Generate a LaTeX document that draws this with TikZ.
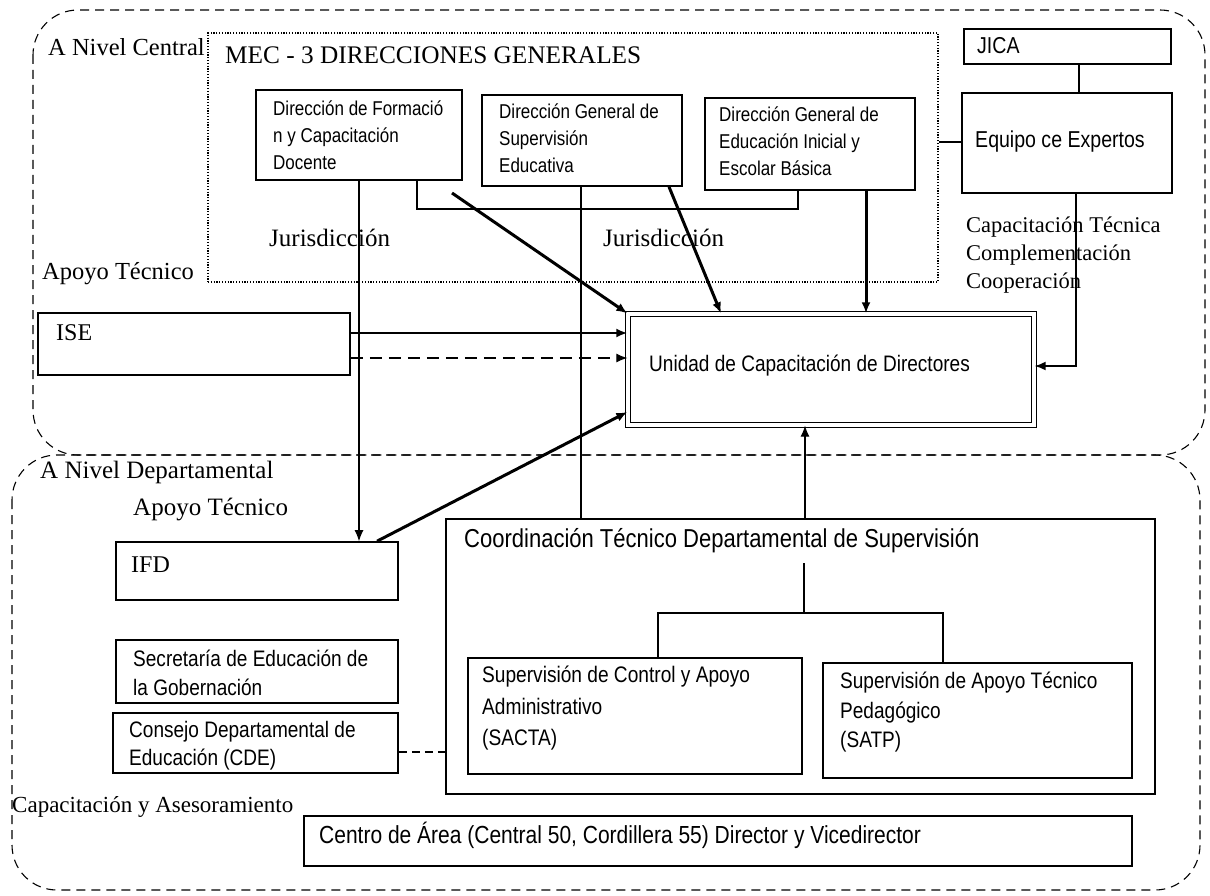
\documentclass[tikz,border=0pt]{standalone}
\usepackage{fontspec}
\setmainfont{Liberation Serif}
\newfontfamily\nsans[FakeStretch=0.85]{Liberation Sans}
\usetikzlibrary{arrows.meta,fit}
\tikzset{
  region/.style={draw, line width=1.1pt, dash pattern=on 9pt off 6pt, rounded corners=45pt},
  box/.style={draw, line width=1.6pt, inner sep=0pt},
  dotbox/.style={draw, line width=1.3pt, dash pattern=on 1.2pt off 1.6pt, inner sep=0pt},
  dblbox/.style={draw, line width=1.3pt, double, double distance=4pt, inner sep=0pt},
  stxt/.style={anchor=west, inner sep=0pt, align=left},
  ttxt/.style={anchor=west, inner sep=0pt, align=left},
  arr/.style={-{Latex[length=11pt,width=9pt]}},
  heavy/.style={line width=3pt},
  mid/.style={line width=1.8pt},
  light/.style={line width=1.1pt}
}
\begin{document}
\begin{tikzpicture}[x=1pt,y=-1pt]
\useasboundingbox (0,0) rectangle (1210,896);
% regions
\draw[region] (33,10) rectangle (1205,455);
\draw[region] (12,455) rectangle (1200,890);

% boxes
\node[dotbox, fit={(208,33) (938,282)}] (mec) {};
\node[box, fit={(256,90) (462,180)}] (d1) {};
\node[box, fit={(482,95) (682,186)}] (d2) {};
\node[box, fit={(705,98) (915,190)}] (d3) {};
\node[box, fit={(964,29) (1171,64)}] (jica) {};
\node[box, fit={(962,93) (1172,193)}] (equipo) {};
\node[dblbox, fit={(628,314) (1034,425)}] (unidad) {};
\node[box, fit={(38,313) (350,375)}] (ise) {};
\node[box, fit={(116,542) (398,600)}] (ifd) {};
\node[box, fit={(446,519) (1155,794)}] (coord) {};
\node[box, fit={(468,658) (802,774)}] (sacta) {};
\node[box, fit={(823,663) (1132,778)}] (satp) {};
\node[box, fit={(116,640) (398,703)}] (secret) {};
\node[box, fit={(113,713) (398,773)}] (consejo) {};
\node[box, fit={(304,816) (1132,866)}] (centro) {};

% serif labels
\node[ttxt, font=\fontsize{24.5}{28}\selectfont] (lcentral) at (48,47) {A Nivel Central};
\node[ttxt, font=\fontsize{25.3}{28}\selectfont] (ltitle) at (225,55) {MEC - 3 DIRECCIONES GENERALES};
\node[ttxt, font=\fontsize{25}{28}\selectfont] (ljur1) at (269,238) {Jurisdicción};
\node[ttxt, font=\fontsize{25}{28}\selectfont] (ljur2) at (603,238) {Jurisdicción};
\node[ttxt, font=\fontsize{24.5}{28}\selectfont] (lapoyo1) at (42,274) {Apoyo Técnico};
\node[ttxt, font=\fontsize{22.5}{28}\selectfont] (lcap) at (966,255) {Capacitación Técnica\\Complementación\\Cooperación};
\node[ttxt, font=\fontsize{24}{28}\selectfont] (lise) at (56,333) {ISE};
\node[ttxt, font=\fontsize{25}{28}\selectfont] (ldep) at (40,472) {A Nivel Departamental};
\node[ttxt, font=\fontsize{25}{28}\selectfont] (lapoyo2) at (133,510) {Apoyo Técnico};
\node[ttxt, font=\fontsize{24}{28}\selectfont] (lifd) at (131,565) {IFD};
\node[ttxt, font=\fontsize{23}{28}\selectfont] (lcapas) at (12,807) {Capacitación y Asesoramiento};

% sans labels
\node[stxt, font=\nsans\fontsize{20}{27}\selectfont] (td1) at (273,135) {Dirección de Formació\\n y Capacitación\\Docente};
\node[stxt, font=\nsans\fontsize{20}{27}\selectfont] (td2) at (499,138) {Dirección General de\\Supervisión\\Educativa};
\node[stxt, font=\nsans\fontsize{20}{27}\selectfont] (td3) at (719,141.5) {Dirección General de\\Educación Inicial y\\Escolar Básica};
\node[stxt, font=\nsans\fontsize{23}{28}\selectfont] (tjica) at (977,46) {JICA};
\node[stxt, font=\nsans\fontsize{23}{28}\selectfont] (tequipo) at (975,142) {Equipo ce Expertos};
\node[stxt, font=\nsans\fontsize{22.4}{28}\selectfont] (tunidad) at (649,366) {Unidad de Capacitación de Directores};
\node[stxt, font=\nsans\fontsize{25.9}{28}\selectfont] (tcoord) at (464,541) {Coordinación Técnico Departamental de Supervisión};
\node[stxt, font=\nsans\fontsize{22.4}{29}\selectfont] (tsecret) at (133,672.5) {Secretaría de Educación de\\la Gobernación};
\node[stxt, font=\nsans\fontsize{22.4}{28}\selectfont] (tconsejo) at (129,746) {Consejo Departamental de\\Educación (CDE)};
\node[stxt, font=\nsans\fontsize{22.5}{31.5}\selectfont] (tsacta) at (482,708.5) {Supervisión de Control y Apoyo\\Administrativo\\(SACTA)};
\node[stxt, font=\nsans\fontsize{22.4}{29.5}\selectfont] (tsatp) at (840,712.5) {Supervisión de Apoyo Técnico\\Pedagógico\\(SATP)};
\node[stxt, font=\nsans\fontsize{24.7}{28}\selectfont] (tcentro) at (319,835) {Centro de Área (Central 50, Cordillera 55) Director y Vicedirector};

% helper coordinates
\coordinate (xa) at (359,0);
\coordinate (bl) at (417,209);
\coordinate (br) at (798,209);
\coordinate (xd2) at (581,0);
\coordinate (s1) at (452,193);
\coordinate (xs2) at (669,0);
\coordinate (xe2) at (721,0);
\coordinate (xd3) at (866,0);
\coordinate (yi1) at (0,333);
\coordinate (yi2) at (0,358);
\coordinate (xf) at (377,0);
\coordinate (yf) at (0,412);
\coordinate (ce) at (1076,366);
\coordinate (xc) at (805,0);
\coordinate (xj) at (1079,0);
\coordinate (ym) at (0,142);
\coordinate (ci) at (804,563);
\coordinate (xl) at (658,613);
\coordinate (xr) at (943,613);
\coordinate (yc) at (0,752);

% connectors
\draw[light, arr] (d1.south -| xa) -- (ifd.north -| xa);
\draw[mid] (d1.south -| bl) -- (bl) -- (br) -- (d3.south -| br);
\draw[line width=2.5pt] (d2.south -| xd2) -- (coord.north -| xd2);
\draw[heavy, arr] (s1) -- (unidad.north west);
\draw[heavy, arr] (d2.south -| xs2) -- (unidad.north -| xe2);
\draw[heavy, arr] (d3.south -| xd3) -- (unidad.north -| xd3);
\draw[line width=2.4pt, arr] (ise.east |- yi1) -- (unidad.west |- yi1);
\draw[light, dash pattern=on 12pt off 7pt, arr] (ise.east |- yi2) -- (unidad.west |- yi2);
\draw[heavy, arr] (ifd.north -| xf) -- (unidad.west |- yf);
\draw[mid, arr] (equipo.south -| ce) -- (ce) -- (unidad.east |- ce);
\draw[light, arr] (coord.north -| xc) -- (unidad.south -| xc);
\draw[mid] (jica.south -| xj) -- (equipo.north -| xj);
\draw[mid] (mec.east |- ym) -- (equipo.west |- ym);
\draw[mid] (ci) -- (ci |- xl);
\draw[mid] (sacta.north -| xl) -- (xl) -- (xr) -- (satp.north -| xr);
\draw[line width=2pt, dash pattern=on 8pt off 5pt] (consejo.east |- yc) -- (coord.west |- yc);
\end{tikzpicture}
\end{document}
